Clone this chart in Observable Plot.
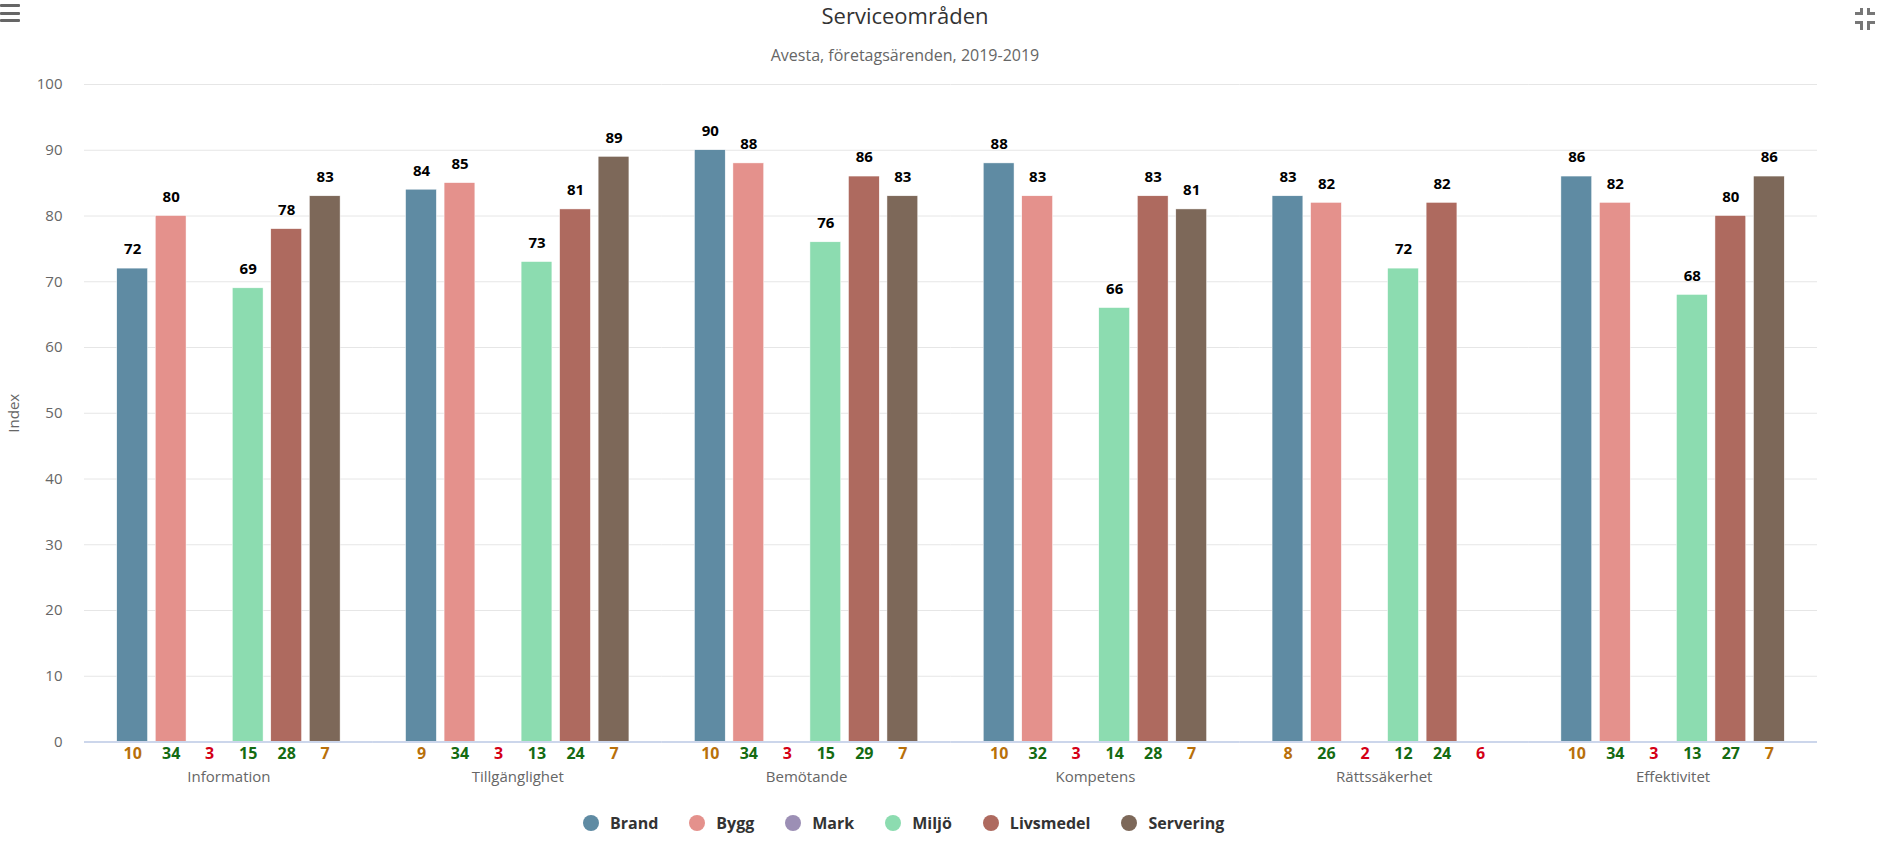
<!DOCTYPE html>
<html>
<head>
<meta charset="utf-8">
<script src="https://cdn.jsdelivr.net/npm/d3@7"></script>
<script src="https://cdn.jsdelivr.net/npm/@observablehq/plot@0.6"></script>
<style>
  html, body { margin: 0; padding: 0; background: #fff; }
  body { width: 1889px; height: 845px; position: relative; overflow: hidden; font-family: "Open Sans", sans-serif; }
  #header { position: relative; height: 70px; }
  #title { position: absolute; left: 0; width: 1810px; top: 2px; line-height: 26px; text-align: center; font-size: 22px; color: #333; }
  #subtitle { position: absolute; left: 0; width: 1810px; top: 44px; line-height: 22px; text-align: center; font-size: 16px; color: #666; }
  #menu { position: absolute; left: 0; top: 4px; width: 20px; }
  #menu span { display: block; height: 3px; background: #666; border-radius: 1px; margin-bottom: 4.5px; }
  #collapse { position: absolute; left: 1854px; top: 8px; }
  #chart { height: 730px; }
  #chart svg { display: block; }
  #legend { position: relative; height: 45px; }
  #legend .items { position: absolute; left: 583px; top: 13px; display: flex; align-items: center; }
  #legend .item { display: flex; align-items: center; margin-right: 31px; font-weight: bold; font-size: 16px; color: #333; line-height: 20px; }
  #legend .dot { width: 16px; height: 16px; border-radius: 50%; margin-right: 11px; }
</style>
</head>
<body>
<div id="header">
  <div id="menu"><span></span><span></span><span></span></div>
  <div id="title">Serviceområden</div>
  <div id="subtitle">Avesta, företagsärenden, 2019-2019</div>
  <svg id="collapse" width="24" height="24" viewBox="0 0 24 24">
    <path d="M1 5.5H7.5V0M14.5 0V5.5H21M1 14.5H7.5V22M14.5 22V14.5H21" fill="none" stroke="#777" stroke-width="3"/>
  </svg>
</div>
<div id="chart"></div>
<div id="legend"><div class="items"></div></div>
<script>
// Service areas (groups along the axis) and the inspection branches (bars in each group)
const categories = ["Information", "Tillgänglighet", "Bemötande", "Kompetens", "Rättssäkerhet", "Effektivitet"];
const series = ["Brand", "Bygg", "Mark", "Miljö", "Livsmedel", "Servering"];
const seriesColors = ["#5f8ba3", "#e4918c", "#9c8fb5", "#8cdcb0", "#ae6a5f", "#7d6859"];

// Index per branch and service area (null = no index reported)
const brand     = [72, 84, 90, 88, 83, 86];
const bygg      = [80, 85, 88, 83, 82, 82];
const mark      = [null, null, null, null, null, null];
const miljo     = [69, 73, 76, 66, 72, 68];
const livsmedel = [78, 81, 86, 83, 82, 80];
const servering = [83, 89, 83, 81, null, 86];

// Number of answers behind each index
const brandN     = [10, 9, 10, 10, 8, 10];
const byggN      = [34, 34, 34, 32, 26, 34];
const markN      = [3, 3, 3, 3, 2, 3];
const miljoN     = [15, 13, 15, 14, 12, 13];
const livsmedelN = [28, 24, 29, 28, 24, 27];
const serveringN = [7, 7, 7, 7, 6, 7];

const yTicks = [0, 10, 20, 30, 40, 50, 60, 70, 80, 90, 100];

const values = [brand, bygg, mark, miljo, livsmedel, servering];
const counts = [brandN, byggN, markN, miljoN, livsmedelN, serveringN];

// Long table: one row per service area and branch
const rows = [];
categories.forEach((category, i) => {
  series.forEach((s, j) => {
    rows.push({category, series: s, value: values[j][i], n: counts[j][i]});
  });
});
const bars = rows.filter(d => d.value != null);

// Answer counts are coloured by how reliable the index is
const countColor = n => n < 7 ? "#d40016" : n < 11 ? "#b8700a" : "#146b12";

const width = 1889, height = 730;
const marginLeft = 84, marginRight = 72, marginTop = 14, marginBottom = 58.5;
const groupPaddingInner = 0.2, groupPaddingOuter = 0.1;
// half the gap between groups, so grid lines run continuously across the facets
const step = (width - marginLeft - marginRight) / (categories.length - groupPaddingInner + 2 * groupPaddingOuter);
const halfGap = step * groupPaddingOuter;

const chart = Plot.plot({
  width, height, marginLeft, marginRight, marginTop, marginBottom,
  style: {fontFamily: "Open Sans", fontSize: "15px", color: "#666", background: "#fff"},
  fx: {domain: categories, paddingInner: groupPaddingInner, paddingOuter: groupPaddingOuter, round: false},
  x: {domain: series, paddingInner: 0.2, paddingOuter: 0.1, round: false, axis: null},
  y: {domain: [0, 100]},
  color: {domain: series, range: seriesColors},
  marks: [
    Plot.ruleY(yTicks, {stroke: "#e6e6e6", strokeWidth: 1, insetLeft: -halfGap, insetRight: -halfGap}),
    Plot.axisY({ticks: yTicks, tickSize: 0, tickPadding: 22 + halfGap, facetAnchor: "left",
      label: "Index", labelAnchor: "center", labelArrow: "none", labelOffset: 105, fill: "#666"}),
    Plot.barY(bars, {fx: "category", x: "series", y: "value", fill: "series", stroke: "#fff", strokeWidth: 0.5}),
    Plot.ruleY([0], {stroke: "#ccd6eb", strokeWidth: 2, insetLeft: -halfGap, insetRight: -halfGap}),
    Plot.text(bars, {fx: "category", x: "series", y: "value", text: d => d.value,
      dy: -19, fontWeight: "bold", fontSize: 15, fill: "#000"}),
    Plot.text(rows, {fx: "category", x: "series", frameAnchor: "bottom", text: d => d.n,
      dy: 17, fontWeight: "bold", fontSize: 16, fill: d => countColor(d.n)}),
    Plot.axisFx({anchor: "bottom", tickSize: 0, tickPadding: 29, label: null, fontSize: 15, fill: "#666"})
  ]
});
document.getElementById("chart").appendChild(chart);

// Legend: one entry per branch, in series order
const items = d3.select("#legend .items");
series.forEach((s, j) => {
  const item = items.append("div").attr("class", "item");
  item.append("div").attr("class", "dot").style("background", seriesColors[j]);
  item.append("span").text(s);
});
</script>
</body>
</html>
